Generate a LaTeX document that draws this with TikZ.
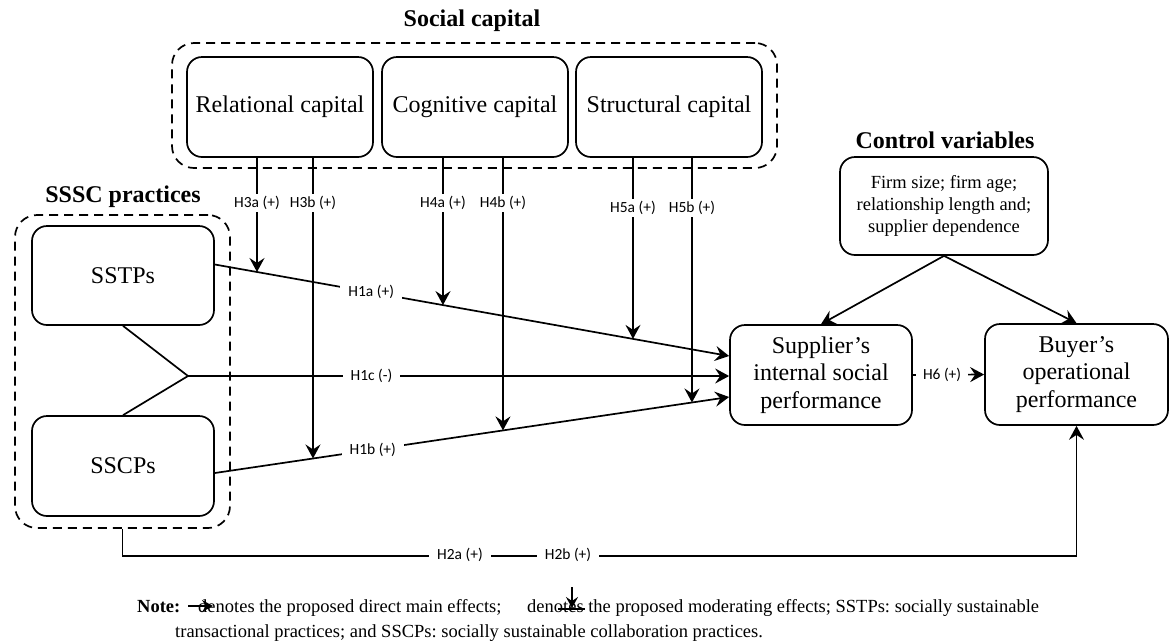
\documentclass[tikz,border=0pt]{standalone}
\usepackage{fontspec}
\setmainfont{Liberation Serif}
\newfontfamily\labfont{Carlito}
\usetikzlibrary{arrows.meta,calc}
\frenchspacing

\begin{document}
\begin{tikzpicture}[x=1pt,y=-1pt,
  box/.style={draw, line width=1.7pt, rounded corners=15pt, align=center,
    font=\fontsize{24}{27.5}\selectfont, inner sep=0pt},
  group/.style={draw, line width=1.7pt, dash pattern=on 9pt off 6pt, rounded corners=22pt},
  grouptitle/.style={font=\fontsize{24}{28}\selectfont\bfseries, inner sep=0pt},
  hlab/.style={fill=white, font=\labfont\fontsize{15.5}{18}\selectfont, inner xsep=8pt, inner ysep=2pt},
  conn/.style={line width=1.7pt},
  arr/.style={conn, -{Stealth[length=14pt,width=15pt,inset=5pt]}},
  smallarr/.style={conn, -{Stealth[length=11pt,width=12pt,inset=4pt]}},
  notetext/.style={font=\fontsize{18.5}{22}\selectfont, anchor=base west, inner sep=0pt}
]
\useasboundingbox (0,0) rectangle (1171,641);

% ---- social capital group ----
\node[group, minimum width=605pt, minimum height=125pt] (social) at (474.5,105.5) {};
\node[grouptitle] (socialT) at (472,21) {Social capital};
\node[box, minimum width=186pt, minimum height=100pt] (rel) at (280,107) {Relational capital};
\node[box, minimum width=186pt, minimum height=100pt] (cog) at (475,107) {Cognitive capital};
\node[box, minimum width=186pt, minimum height=100pt] (str) at (669,107) {Structural capital};

% ---- SSSC practices group ----
\node[group, minimum width=215pt, minimum height=313pt] (sssc) at (122.5,371.5) {};
\node[grouptitle] (ssscT) at (123,197) {SSSC practices};
\node[box, minimum width=182pt, minimum height=99pt] (sstp) at (123,275.5) {SSTPs};
\node[box, minimum width=182pt, minimum height=100pt] (sscp) at (123,466) {SSCPs};

% ---- outcomes and controls ----
\node[box, minimum width=182pt, minimum height=100pt] (sup) at (821,375)
  {Supplier’s\\internal social\\performance};
\node[box, minimum width=183pt, minimum height=101pt] (buy) at (1076.5,374.5)
  {Buyer’s\\operational\\performance};
\node[grouptitle] (ctrlT) at (945,140) {Control variables};
\node[box, minimum width=208pt, minimum height=98pt, font=\fontsize{18.5}{22}\selectfont] (ctrl) at (944,206)
  {Firm size; firm age;\\relationship length and;\\supplier dependence};

% ---- main effect paths ----
\coordinate (junc) at (188,376);
\coordinate (h1aS) at ($(sstp.east)+(0,-11)$);
\coordinate (h1aE) at ($(sup.west)+(0,-19)$);
\coordinate (h1bS) at ($(sscp.east)+(0,7)$);
\coordinate (h1bE) at ($(sup.west)+(0,22)$);

\draw[conn] (sstp.south) -- (junc);
\draw[conn] (sscp.north) -- (junc);
\draw[arr] (h1aS) -- (h1aE);
\draw[arr] (h1bS) -- (h1bE);
\draw[arr] (junc) -- node[hlab, pos=0.339] (l1c) {H1c (-)} (junc -| sup.west);

% ---- moderating paths ----
\coordinate (t3a) at ([xshift=-23pt]rel.south);
\coordinate (t3b) at ([xshift=33pt]rel.south);
\coordinate (t4a) at ([xshift=-32pt]cog.south);
\coordinate (t4b) at ([xshift=28pt]cog.south);
\coordinate (t5a) at ([xshift=-36pt]str.south);
\coordinate (t5b) at ([xshift=23pt]str.south);
\coordinate (u3a) at ($(t3a)+(0,400)$);
\coordinate (u3b) at ($(t3b)+(0,400)$);
\coordinate (u4a) at ($(t4a)+(0,400)$);
\coordinate (u4b) at ($(t4b)+(0,400)$);
\coordinate (u5a) at ($(t5a)+(0,400)$);
\coordinate (u5b) at ($(t5b)+(0,400)$);
\coordinate (m3a) at (intersection of t3a--u3a and h1aS--h1aE);
\coordinate (m3b) at (intersection of t3b--u3b and h1bS--h1bE);
\coordinate (m4a) at (intersection of t4a--u4a and h1aS--h1aE);
\coordinate (m4b) at (intersection of t4b--u4b and h1bS--h1bE);
\coordinate (m5a) at (intersection of t5a--u5a and h1aS--h1aE);
\coordinate (m5b) at (intersection of t5b--u5b and h1bS--h1bE);

\draw[arr] (t3a) -- (m3a);
\draw[arr] (t3b) -- (m3b);
\draw[arr] (t4a) -- (m4a);
\draw[arr] (t4b) -- (m4b);
\draw[arr] (t5a) -- (m5a);
\draw[arr] (t5b) -- (m5b);

% labels laid over the lines
\path (h1aS) -- node[hlab, pos=0.304] (l1a) {H1a (+)} (h1aE);
\path (h1bS) -- node[hlab, pos=0.307] (l1b) {H1b (+)} (h1bE);
\node[hlab] (l3a) at (t3a |- 0,203) {H3a (+)};
\node[hlab] (l3b) at (t3b |- 0,203) {H3b (+)};
\node[hlab] (l4a) at (t4a |- 0,203) {H4a (+)};
\node[hlab] (l4b) at (t4b |- 0,203) {H4b (+)};
\node[hlab] (l5a) at (t5a |- 0,208) {H5a (+)};
\node[hlab] (l5b) at (t5b |- 0,208) {H5b (+)};

% ---- controls and outcome paths ----
\draw[arr] (ctrl.south) -- (sup.north);
\draw[arr] (ctrl.south) -- (buy.north);
\draw[arr] (sup.east) -- node[hlab, inner xsep=7pt, pos=0.41] (l6) {H6 (+)} (buy.west);

\coordinate (h2c) at ($(sssc.south)+(0,27)$);
\draw[arr] (sssc.south) -- (h2c) -| (buy.south);
\node[hlab] (l2a) at (460,555) {H2a (+)};
\node[hlab] (l2b) at (568,555) {H2b (+)};

% ---- note ----
\node[notetext, font=\fontsize{18.5}{22}\selectfont\bfseries] (noteA) at (137,612) {Note:};
\node[notetext] (noteB) at (198,612) {denotes the proposed direct main effects;};
\node[notetext] (noteC) at (527,612) {denotes the proposed moderating effects; SSTPs: socially sustainable};
\node[notetext] (noteD) at (175,637) {transactional practices; and SSCPs: socially sustainable collaboration practices.};
\coordinate (keyAs) at (188,606);
\coordinate (keyAe) at (213,606);
\draw[smallarr] (keyAs) -- (keyAe);
\coordinate (keyBs) at (572,587);
\coordinate (keyBe) at (572,608);
\coordinate (keyBl) at (558,609);
\coordinate (keyBr) at (585,609);
\draw[smallarr] (keyBs) -- (keyBe);
\draw[conn] (keyBl) -- (keyBr);
\end{tikzpicture}
\end{document}
